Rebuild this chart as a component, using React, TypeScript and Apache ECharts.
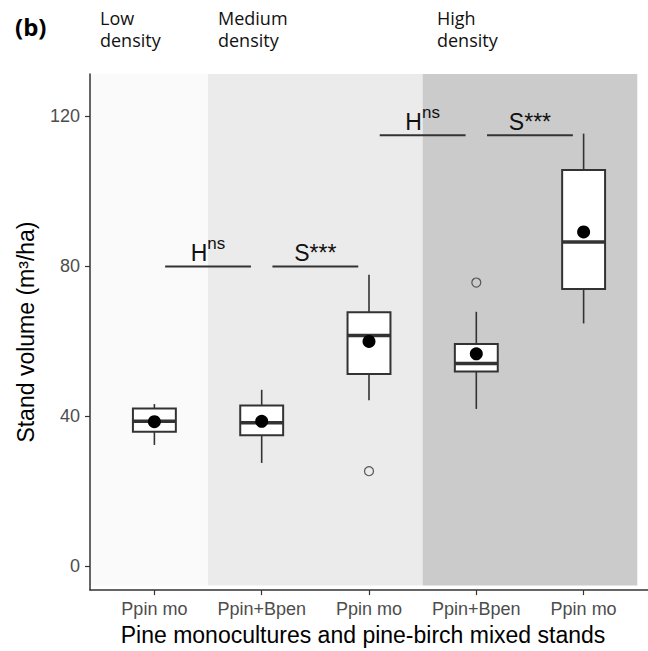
import React, { useEffect, useRef } from 'react';
import * as echarts from 'echarts';

// ---- data ----
const categories = ['Ppin mo', 'Ppin+Bpen', 'Ppin mo', 'Ppin+Bpen', 'Ppin mo'];
const categoryPositions = [1, 2, 3, 4, 5];
const whiskerLow = [32.4, 27.6, 44.3, 42.0, 64.8];
const q1 = [35.9, 35.0, 51.3, 52.0, 74.0];
const median = [38.7, 38.3, 61.6, 54.1, 86.5];
const q3 = [42.1, 42.9, 67.8, 59.3, 105.7];
const whiskerHigh = [43.3, 47.1, 77.8, 67.9, 115.4];
const means = [38.6, 38.7, 60.0, 56.7, 89.2];
const outlierX = [3, 4];
const outlierY = [25.4, 75.7];
const yTicks = [0, 40, 80, 120];
const densityLabels = ['Low\ndensity', 'Medium\ndensity', 'High\ndensity'];
const densityStart = [0.4, 1.5, 3.5];
const densityEnd = [1.5, 3.5, 5.5];
const sigStart = [1.1, 2.1, 3.1, 4.1];
const sigEnd = [1.9, 2.9, 3.9, 4.9];
const sigLevel = [80, 80, 115, 115];
const sigMain = ['H', 'S***', 'H', 'S***'];
const sigSup = ['ns', '', 'ns', ''];

// ---- axis ranges / styles ----
const X_MIN = 0.4;
const X_MAX = 5.6;
const Y_MIN = -6.3;
const Y_MAX = 131.3;
const SHADE_BOTTOM = -5.1;
const SHADE_COLORS = ['#fafafa', '#ebebeb', '#cbcbcb'];
const DENSITY_LABEL_X = [100, 218, 437];
const SANS = 'Liberation Sans, Arial, sans-serif';
const DARK = '#333333';

export default function App() {
  const ref = useRef<HTMLDivElement>(null);

  useEffect(() => {
    if (!ref.current) return;
    const chart = echarts.init(ref.current, undefined, { renderer: 'svg' });

    const boxData = categoryPositions.map((x, i) => [x, whiskerLow[i], q1[i], median[i], q3[i], whiskerHigh[i]]);
    const meanData = categoryPositions.map((x, i) => [x, means[i]]);
    const outlierData = outlierX.map((x, i) => [x, outlierY[i]]);
    const shadeData = densityStart.map((s, i) => [s, densityEnd[i]]);
    const sigData = sigStart.map((s, i) => [s, sigEnd[i], sigLevel[i]]);

    const option: any = {
      animation: false,
      grid: { left: 90, top: 74, right: 0, bottom: 56, containLabel: false },
      xAxis: {
        type: 'value',
        min: X_MIN,
        max: X_MAX,
        splitLine: { show: false },
        axisLine: { show: true, onZero: false, lineStyle: { color: DARK, width: 1.5 } },
        axisTick: { show: true, length: 5, customValues: categoryPositions, lineStyle: { color: DARK, width: 1.2 } },
        axisLabel: {
          customValues: categoryPositions,
          formatter: (v: number) => categories[Math.round(v) - 1] ?? '',
          fontSize: 18,
          fontFamily: SANS,
          color: '#4d4d4d',
          margin: 10,
        },
        name: 'Pine monocultures and pine-birch mixed stands',
        nameLocation: 'middle',
        nameGap: 30,
        nameTextStyle: { fontSize: 23, fontFamily: SANS, color: '#000', padding: [0, 12, 0, 0] },
      },
      yAxis: {
        type: 'value',
        min: Y_MIN,
        max: Y_MAX,
        splitLine: { show: false },
        axisLine: { show: true, onZero: false, lineStyle: { color: DARK, width: 1.5 } },
        axisTick: { show: true, length: 5, customValues: yTicks, lineStyle: { color: DARK, width: 1.2 } },
        axisLabel: {
          customValues: yTicks,
          fontSize: 18,
          fontFamily: SANS,
          color: '#4d4d4d',
          margin: 10,
        },
        name: 'Stand volume (m³/ha)',
        nameLocation: 'middle',
        nameGap: 53,
        nameTextStyle: { fontSize: 23, fontFamily: SANS, color: '#000' },
      },
      graphic: [
        {
          type: 'text',
          left: 15,
          top: 14,
          style: { text: '(b)', font: 'bold 24px "Open Sans", sans-serif', fill: '#000' },
        },
        ...densityLabels.map((t, i) => ({
          type: 'text',
          left: DENSITY_LABEL_X[i],
          top: 7,
          style: { text: t, fontSize: 18, fontFamily: '"Open Sans", sans-serif', lineHeight: 22, fill: '#111' },
        })),
      ],
      series: [
        {
          type: 'custom',
          name: 'density',
          clip: false,
          silent: true,
          z: 0,
          data: shadeData,
          encode: { x: [0, 1] },
          renderItem: (params: any, api: any) => {
            const s = api.value(0);
            const e = api.value(1);
            const p1 = api.coord([Math.max(s, X_MIN), Y_MAX]);
            const p2 = api.coord([e, SHADE_BOTTOM]);
            return {
              type: 'rect',
              shape: { x: p1[0], y: p1[1], width: p2[0] - p1[0], height: p2[1] - p1[1] },
              style: { fill: SHADE_COLORS[params.dataIndex], stroke: 'none' },
            };
          },
        },
        {
          type: 'custom',
          name: 'significance',
          clip: false,
          silent: true,
          z: 2,
          data: sigData,
          encode: { x: [0, 1], y: 2 },
          renderItem: (params: any, api: any) => {
            const a = api.coord([api.value(0), api.value(2)]);
            const b = api.coord([api.value(1), api.value(2)]);
            const cx = (a[0] + b[0]) / 2;
            const i = params.dataIndex;
            const text = sigSup[i] ? `{m|${sigMain[i]}}{s|${sigSup[i]}}` : `{m|${sigMain[i]}}`;
            return {
              type: 'group',
              children: [
                {
                  type: 'line',
                  shape: { x1: a[0], y1: a[1], x2: b[0], y2: b[1] },
                  style: { stroke: DARK, lineWidth: 2 },
                },
                {
                  type: 'text',
                  x: cx,
                  y: a[1] - 2,
                  style: {
                    text,
                    align: 'center',
                    verticalAlign: 'bottom',
                    fill: '#111',
                    rich: {
                      m: { fontSize: 23, fontFamily: SANS, lineHeight: 23, verticalAlign: 'bottom', fill: '#111' },
                      s: { fontSize: 17, fontFamily: SANS, lineHeight: 17, padding: [0, 0, 12, 0], verticalAlign: 'bottom', fill: '#111' },
                    },
                  },
                },
              ],
            };
          },
        },
        {
          type: 'custom',
          name: 'boxes',
          z: 3,
          data: boxData,
          encode: { x: 0, y: [1, 2, 3, 4, 5] },
          renderItem: (params: any, api: any) => {
            const x = api.value(0);
            const lo = api.coord([x, api.value(1)]);
            const b1 = api.coord([x, api.value(2)]);
            const md = api.coord([x, api.value(3)]);
            const b3 = api.coord([x, api.value(4)]);
            const hi = api.coord([x, api.value(5)]);
            const half = api.size([0.4, 0])[0] / 2;
            const cx = lo[0];
            return {
              type: 'group',
              children: [
                { type: 'line', shape: { x1: cx, y1: hi[1], x2: cx, y2: b3[1] }, style: { stroke: DARK, lineWidth: 1.6 } },
                { type: 'line', shape: { x1: cx, y1: b1[1], x2: cx, y2: lo[1] }, style: { stroke: DARK, lineWidth: 1.6 } },
                {
                  type: 'rect',
                  shape: { x: cx - half, y: b3[1], width: half * 2, height: b1[1] - b3[1] },
                  style: { fill: '#ffffff', stroke: DARK, lineWidth: 2 },
                },
                {
                  type: 'line',
                  shape: { x1: cx - half, y1: md[1], x2: cx + half, y2: md[1] },
                  style: { stroke: DARK, lineWidth: 3.5 },
                },
              ],
            };
          },
        },
        {
          type: 'scatter',
          name: 'mean',
          z: 4,
          data: meanData,
          symbol: 'circle',
          symbolSize: 13,
          itemStyle: { color: '#000', opacity: 1 },
        },
        {
          type: 'scatter',
          name: 'outliers',
          z: 4,
          data: outlierData,
          symbol: 'circle',
          symbolSize: 9,
          itemStyle: { color: 'rgba(0,0,0,0)', borderColor: '#555', borderWidth: 1.2, opacity: 1 },
        },
      ],
    };

    chart.setOption(option);
    return () => chart.dispose();
  }, []);

  return (
    <div
      ref={ref}
      style={{ position: 'absolute', left: 0, top: 0, width: 648, height: 651, background: '#fff' }}
    />
  );
}
